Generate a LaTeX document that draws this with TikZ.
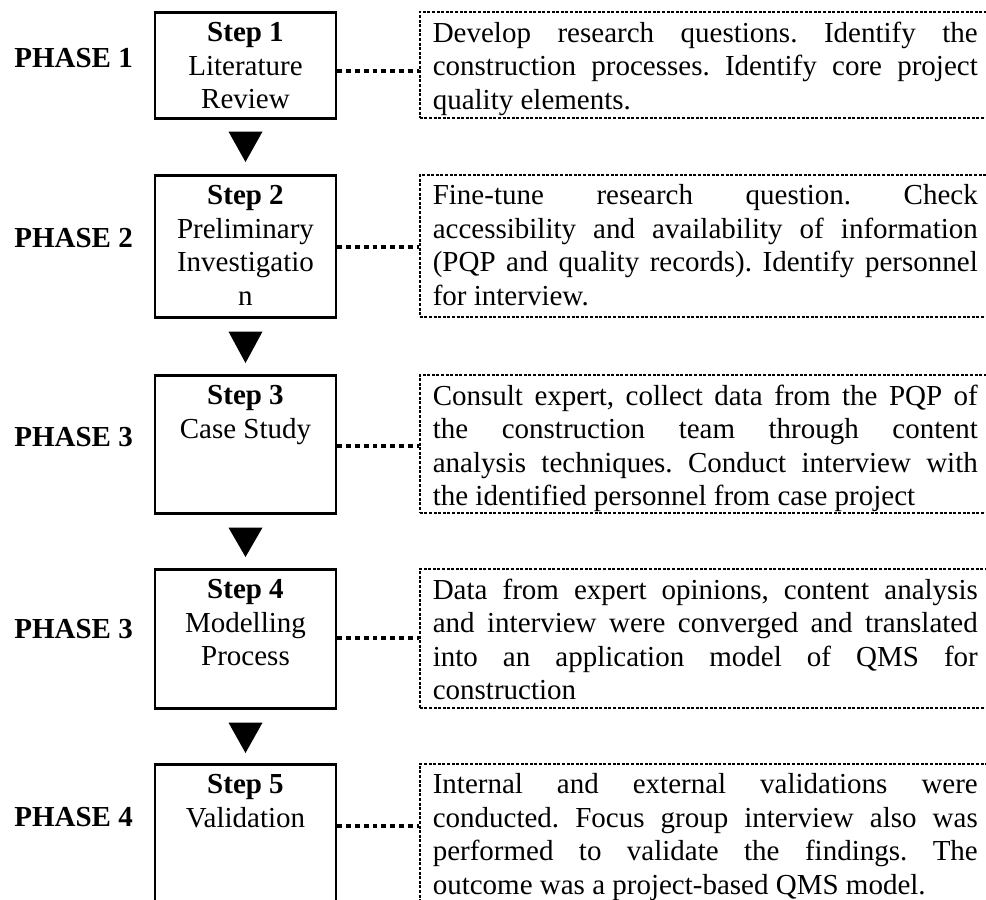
\documentclass[tikz,border=0pt]{standalone}
\usepackage{fontspec}
\setmainfont{Liberation Serif}
\usetikzlibrary{calc}

\tikzset{
    stepbox/.style={draw, line width=1.3pt, inner xsep=0pt, inner ysep=5pt, anchor=north},
    notebox/.style={draw, line width=0.8pt, dash pattern=on 1.5pt off 0.8pt, inner xsep=6.5pt, inner ysep=5pt, anchor=north west},
    phaselabel/.style={anchor=base west, inner sep=0pt, font=\fontsize{14.5}{16.75}\selectfont\bfseries},
    link/.style={line width=2pt, dash pattern=on 2.4pt off 2pt},
    pointer/.style={fill=black}
}
\newcommand{\steptext}[2]{\parbox[t][#1][t]{90.5pt}{\centering #2}}
\newcommand{\notetext}[2]{\parbox[t][#1][t]{272.5pt}{\frenchspacing\tolerance=10000 \hbadness=10000 \hyphenpenalty=10000 \exhyphenpenalty=10000 #2}}

\begin{document}
\begin{tikzpicture}[x=0.5pt, y=-0.5pt, font=\fontsize{14.5}{16.75}\selectfont]
    \useasboundingbox (0,0) rectangle (986,900);
    \clip (0,0) rectangle (986,900);
    \node[stepbox] (s1) at (245.5,11) {\steptext{43pt}{\textbf{Step 1}\\Literature\\Review}};
    \node[stepbox] (s2) at (245.5,174) {\steptext{61pt}{\textbf{Step 2}\\Preliminary\\Investigatio\\n}};
    \node[stepbox] (s3) at (245.5,374) {\steptext{59pt}{\textbf{Step 3}\\Case Study}};
    \node[stepbox] (s4) at (245.5,568) {\steptext{59.5pt}{\textbf{Step 4}\\Modelling\\Process}};
    \node[stepbox] (s5) at (245.5,763) {\steptext{73.5pt}{\textbf{Step 5}\\Validation}};
    \node[notebox] (d1) at (419,11) {\notetext{43pt}{Develop research questions. Identify the\linebreak construction processes. Identify core project\linebreak quality elements.}};
    \node[notebox] (d2) at (419,174) {\notetext{61pt}{Fine-tune research question. Check\linebreak accessibility and availability of information\linebreak (PQP and quality records). Identify personnel\linebreak for interview.}};
    \node[notebox] (d3) at (419,374) {\notetext{59pt}{Consult expert, collect data from the PQP of\linebreak the construction team through content\linebreak analysis techniques. Conduct interview with\linebreak the identified personnel from case project}};
    \node[notebox] (d4) at (419,568) {\notetext{59.5pt}{Data from expert opinions, content analysis\linebreak and interview were converged and translated\linebreak into an application model of QMS for\linebreak construction}};
    \node[notebox] (d5) at (419,763) {\notetext{73.5pt}{Internal and external validations were\linebreak conducted. Focus group interview also was\linebreak performed to validate the findings. The\linebreak outcome was a project-based QMS model.}};
    \node[phaselabel] (p1) at (14,67) {PHASE 1};
    \node[phaselabel] (p2) at (14,247) {PHASE 2};
    \node[phaselabel] (p3) at (14,446) {PHASE 3};
    \node[phaselabel] (p4) at (14,638) {PHASE 3};
    \node[phaselabel] (p5) at (14,826) {PHASE 4};
    \draw[link] ([yshift=-30pt]s1.north east) -- ([yshift=-30pt]d1.north west);
    \draw[link] ([yshift=-36.5pt]s2.north east) -- ([yshift=-36.5pt]d2.north west);
    \draw[link] ([yshift=-36pt]s3.north east) -- ([yshift=-36pt]d3.north west);
    \draw[link] ([yshift=-35pt]s4.north east) -- ([yshift=-35pt]d4.north west);
    \draw[link] ([yshift=-31.5pt]s5.north east) -- ([yshift=-31.5pt]d5.north west);
    \fill[pointer] ([xshift=-8.5pt,yshift=-6pt]s1.south) -- ([xshift=8.5pt,yshift=-6pt]s1.south) -- ([yshift=6pt]s2.north) -- cycle;
    \fill[pointer] ([xshift=-8.5pt,yshift=-6.5pt]s2.south) -- ([xshift=8.5pt,yshift=-6.5pt]s2.south) -- ([yshift=5.5pt]s3.north) -- cycle;
    \fill[pointer] ([xshift=-8.5pt,yshift=-6.5pt]s3.south) -- ([xshift=8.5pt,yshift=-6.5pt]s3.south) -- ([yshift=5.5pt]s4.north) -- cycle;
    \fill[pointer] ([xshift=-8.5pt,yshift=-6.5pt]s4.south) -- ([xshift=8.5pt,yshift=-6.5pt]s4.south) -- ([yshift=5pt]s5.north) -- cycle;
\end{tikzpicture}
\end{document}
